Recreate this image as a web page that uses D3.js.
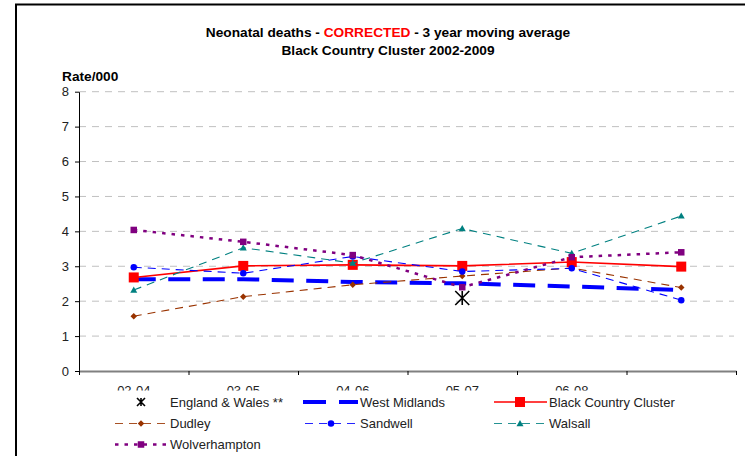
<!DOCTYPE html>
<html>
<head>
<meta charset="utf-8">
<script src="https://cdn.jsdelivr.net/npm/d3@7"></script>
<style>
  html, body { margin: 0; padding: 0; background: #fff; }
  svg { display: block; font-family: Arial, "Liberation Sans", sans-serif; }
</style>
</head>
<body>
<svg id="chart" width="749" height="456"></svg>
<script>
// ---- data ----
const categories = ["02-04", "03-05", "04-06", "05-07", "06-08", "07-09"];
const tickLabels = ["02-04", "03-05", "04-06", "05-07", "06-08", ""];
const yTicks = [0, 1, 2, 3, 4, 5, 6, 7, 8];

const englandWales  = [null, null, null, 2.09, null, null];
const westMidlands  = [2.63, 2.63, 2.55, 2.51, 2.42, 2.32];
const blackCountry  = [2.68, 3.01, 3.04, 3.01, 3.12, 2.99];
const dudley        = [1.57, 2.13, 2.47, 2.72, 2.95, 2.39];
const sandwell      = [2.97, 2.80, 3.28, 2.85, 2.94, 2.03];
const walsall       = [2.32, 3.53, 3.09, 4.08, 3.37, 4.44];
const wolverhampton = [4.04, 3.70, 3.32, 2.40, 3.26, 3.40];

const seriesNames = ["England & Wales **", "West Midlands", "Black Country Cluster",
                     "Dudley", "Sandwell", "Walsall", "Wolverhampton"];

// ---- styles ----
const styles = {
  "England & Wales **":   {values: englandWales,  color: "#000000", width: 0,    dash: null,        marker: "star",     size: 7},
  "West Midlands":        {values: westMidlands,  color: "#0000FF", width: 4,    dash: "22,12.5",   marker: null,       size: 0},
  "Black Country Cluster":{values: blackCountry,  color: "#FF0000", width: 1.6,  dash: null,        marker: "square",   size: 10},
  "Dudley":               {values: dudley,        color: "#993300", width: 1.1,  dash: "8,6",       marker: "diamond",  size: 6.5},
  "Sandwell":             {values: sandwell,      color: "#0000FF", width: 1.1,  dash: "8,6",       marker: "circle",   size: 6.5},
  "Walsall":              {values: walsall,       color: "#008080", width: 1.1,  dash: "8,6",       marker: "triangle", size: 7},
  "Wolverhampton":        {values: wolverhampton, color: "#800080", width: 2.5,  dash: "3.5,6",     marker: "square",   size: 6.5}
};

const svg = d3.select("#chart");

// outer chart border (top + left visible)
svg.append("path")
  .attr("d", "M16,470 V4.5 H745")
  .attr("fill", "none").attr("stroke", "#000").attr("stroke-width", 2);

// title
const title = svg.append("text")
  .attr("x", 388).attr("y", 36.5)
  .attr("text-anchor", "middle")
  .attr("font-size", "13.7px").attr("font-weight", "bold").attr("fill", "#000");
title.append("tspan").text("Neonatal deaths - ");
title.append("tspan").attr("fill", "#FF0000").text("CORRECTED");
title.append("tspan").text(" - 3 year moving average");
svg.append("text")
  .attr("x", 388).attr("y", 55)
  .attr("text-anchor", "middle")
  .attr("font-size", "13.7px").attr("font-weight", "bold")
  .text("Black Country Cluster 2002-2009");

svg.append("text")
  .attr("x", 62).attr("y", 80.5)
  .attr("font-size", "13.7px").attr("font-weight", "bold")
  .text("Rate/000");

// ---- scales ----
const plotLeft = 79, plotRight = 736, plotBottom = 371, plotTop = 91.7;
const x = d3.scaleBand().domain(categories).range([plotLeft, plotRight]).paddingInner(0).paddingOuter(0);
const xc = c => x(c) + x.bandwidth() / 2;
const xb = d3.scaleLinear().domain([0, categories.length]).range([plotLeft, plotRight]);
const y = d3.scaleLinear().domain([0, 8]).range([plotBottom, plotTop]);

// gridlines
svg.append("g").selectAll("line").data(yTicks.filter(v => v > 0)).join("line")
  .attr("x1", plotLeft).attr("x2", plotRight - 2)
  .attr("y1", d => y(d)).attr("y2", d => y(d))
  .attr("stroke", "#C0C0C0").attr("stroke-width", 1)
  .attr("stroke-dasharray", "7,6");

// y axis
const yAxis = svg.append("g").attr("transform", `translate(${plotLeft},0)`)
  .call(d3.axisLeft(y).tickValues(yTicks).tickSize(4).tickSizeOuter(0).tickPadding(6));
yAxis.select(".domain").attr("stroke", "#000").attr("stroke-width", 1);
yAxis.selectAll(".tick line").attr("stroke", "#000");
yAxis.selectAll(".tick text").attr("font-size", "13px").attr("fill", "#222")
  .attr("font-family", "Arial, 'Liberation Sans', sans-serif");

// x axis (ticks at category boundaries)
const xAxis = svg.append("g").attr("transform", `translate(0,${plotBottom})`)
  .call(d3.axisBottom(xb).ticks(categories.length).tickFormat("").tickSize(4).tickSizeOuter(0));
xAxis.select(".domain").attr("stroke", "#808080").attr("stroke-width", 2.2);
xAxis.selectAll(".tick line").attr("stroke", "#000");

// x labels at category centres
const xLab = svg.append("g").attr("transform", `translate(0,${plotBottom})`)
  .call(d3.axisBottom(x).tickSize(0).tickPadding(0).tickFormat((d, i) => tickLabels[i]));
xLab.select(".domain").remove();
xLab.selectAll(".tick text").attr("font-size", "13px").attr("fill", "#222")
  .attr("dy", null).attr("y", 23.5)
  .attr("font-family", "Arial, 'Liberation Sans', sans-serif");

// ---- marker drawing ----
function drawMarker(g, type, cx, cy, size, color) {
  const h = size / 2;
  if (type === "square") {
    g.append("rect").attr("x", cx - h).attr("y", cy - h).attr("width", size).attr("height", size).attr("fill", color);
  } else if (type === "circle") {
    g.append("circle").attr("cx", cx).attr("cy", cy).attr("r", h).attr("fill", color);
  } else if (type === "diamond") {
    g.append("path").attr("d", `M${cx},${cy - h}L${cx + h},${cy}L${cx},${cy + h}L${cx - h},${cy}Z`).attr("fill", color);
  } else if (type === "triangle") {
    g.append("path").attr("d", `M${cx},${cy - h}L${cx + h},${cy + h * 0.75}L${cx - h},${cy + h * 0.75}Z`).attr("fill", color);
  } else if (type === "star") {
    g.append("path")
      .attr("d", `M${cx - h},${cy - h}L${cx + h},${cy + h}M${cx + h},${cy - h}L${cx - h},${cy + h}M${cx},${cy - h}L${cx},${cy + h}`)
      .attr("stroke", color).attr("stroke-width", 1.6).attr("fill", "none");
  }
}

// ---- series ----
const line = d3.line()
  .defined(d => d.v !== null)
  .x(d => xc(d.c)).y(d => y(d.v));

seriesNames.forEach(name => {
  const s = styles[name];
  const pts = categories.map((c, i) => ({c, v: s.values[i]}));
  const g = svg.append("g");
  if (s.width > 0) {
    g.append("path").datum(pts).attr("d", line)
      .attr("fill", "none").attr("stroke", s.color).attr("stroke-width", s.width)
      .attr("stroke-dasharray", s.dash);
  }
  if (s.marker) {
    pts.filter(p => p.v !== null).forEach(p => {
      const sz = s.marker === "star" ? 14 : s.size;
      drawMarker(g, s.marker, xc(p.c), y(p.v), sz, s.color);
    });
  }
});

// ---- legend ----
svg.append("rect").attr("x", 92).attr("y", 390.5).attr("width", 610).attr("height", 70).attr("fill", "#fff");

const colCentres = [141, 331, 520];
const rowY = [402, 423.5, 444.5];
const lg = svg.append("g");
seriesNames.forEach((name, i) => {
  const s = styles[name];
  const cx = colCentres[i % 3], cy = rowY[Math.floor(i / 3)];
  if (s.width > 0) {
    let x1 = cx - 26, x2 = cx + 27;
    if (name === "West Midlands") { x1 = cx - 28; x2 = cx + 27; }
    lg.append("line").attr("x1", x1).attr("x2", x2).attr("y1", cy).attr("y2", cy)
      .attr("stroke", s.color).attr("stroke-width", s.width)
      .attr("stroke-dasharray", name === "West Midlands" ? "23,13" : s.dash)
      .attr("opacity", (name === "Sandwell" || name === "Walsall" || name === "Dudley") ? 0.85 : 1);
  }
  if (s.marker) {
    const sz = s.marker === "star" ? 8 : s.size;
    drawMarker(lg, s.marker, cx, cy, sz, s.color);
  }
  lg.append("text").attr("x", cx + 29).attr("y", cy).attr("dy", "0.35em")
    .attr("font-size", "13px").attr("fill", "#222").text(name);
});
</script>
</body>
</html>
